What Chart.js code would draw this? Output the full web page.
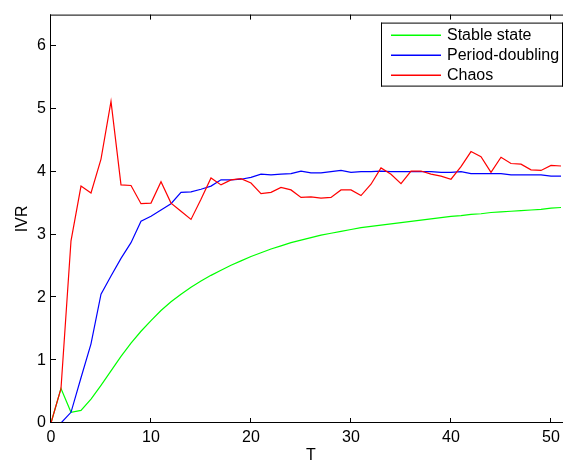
<!DOCTYPE html>
<html><head><meta charset="utf-8">
<script src="https://cdn.jsdelivr.net/npm/chart.js@4/dist/chart.umd.min.js"></script>
<style>
html,body{margin:0;padding:0;background:#fff;overflow:hidden;width:563px;height:461px}
#wrap{width:572px;height:461px;position:relative}
canvas{display:block}
</style>
</head><body><div id="wrap"><canvas id="c" width="572" height="461"></canvas></div>
<script>
const T = [0,1,2,3,4,5,6,7,8,9,10,11,12,13,14,15,16,17,18,19,20,21,22,23,24,25,26,27,28,29,30,31,32,33,34,35,36,37,38,39,40,41,42,43,44,45,46,47,48,49,50,51];
const stableState = [0,0.55,0.17,0.20,0.38,0.60,0.83,1.06,1.27,1.46,1.63,1.79,1.93,2.05,2.16,2.26,2.35,2.43,2.51,2.58,2.65,2.71,2.77,2.82,2.87,2.91,2.95,2.99,3.02,3.05,3.08,3.11,3.13,3.15,3.17,3.19,3.21,3.23,3.25,3.27,3.29,3.30,3.32,3.33,3.35,3.36,3.37,3.38,3.39,3.40,3.42,3.43];
const periodDoubling = [0,0,0.17,0.72,1.26,2.05,2.34,2.62,2.87,3.21,3.29,3.39,3.49,3.67,3.68,3.72,3.77,3.87,3.87,3.88,3.91,3.96,3.95,3.96,3.97,4.01,3.98,3.98,4.00,4.02,3.99,4.00,4.00,4.01,4.00,4.00,4.00,4.00,4.00,3.99,3.99,4.00,3.97,3.97,3.97,3.97,3.95,3.95,3.95,3.95,3.93,3.93];
const chaos = [0,0.55,2.90,3.77,3.66,4.20,5.12,3.79,3.78,3.49,3.50,3.84,3.50,3.37,3.24,3.56,3.90,3.79,3.87,3.89,3.82,3.65,3.67,3.75,3.71,3.59,3.60,3.58,3.59,3.71,3.71,3.62,3.80,4.06,3.96,3.81,4.01,4.01,3.96,3.93,3.88,4.08,4.32,4.24,3.99,4.23,4.13,4.12,4.03,4.02,4.10,4.09];
const seriesNames = ['Stable state','Period-doubling','Chaos'];
const xTicks = [0,10,20,30,40,50];
const yTicks = [0,1,2,3,4,5,6];
const xTitle = 'T';
const yTitle = 'IVR';

const COLORS = ['#00ff00','#0000ff','#ff0000'];
const FONT = '"Liberation Sans", Arial, Helvetica, sans-serif';
function pts(v){ return T.map((t,i)=>({x:t, y:v[i]})); }

const framePlugin = {
  id:'frame',
  afterDraw(chart){
    const {ctx, chartArea:a, scales:{x,y}} = chart;
    ctx.save();
    ctx.fillStyle = '#000000';
    ctx.fillRect(a.left-1, a.top, 1, a.bottom-a.top);
    ctx.fillRect(a.left-1, a.bottom-1, a.right-a.left+1, 1);
    ctx.fillRect(a.left-1, a.top, a.right-a.left+1, 1);
    ctx.fillRect(a.right-1, a.top, 1, a.bottom-a.top);
    const tl = 5;
    xTicks.forEach(v=>{
      const px = Math.round(x.getPixelForValue(v))-1;
      ctx.fillRect(px, a.bottom-tl, 1, tl);
      ctx.fillRect(px, a.top, 1, tl);
    });
    yTicks.forEach(v=>{
      const py = Math.round(y.getPixelForValue(v))-1;
      ctx.fillRect(a.left, py, tl, 1);
      ctx.fillRect(a.right-tl, py, tl, 1);
    });

    // legend box
    const L = a.left + 330, Tp = a.top + 8, R = a.right - 8, H = 64;
    ctx.fillStyle = '#ffffff';
    ctx.fillRect(L, Tp, R-L, H);
    ctx.fillStyle = '#000000';
    ctx.fillRect(L, Tp, R-L, 1);
    ctx.fillRect(L, Tp+H-1, R-L, 1);
    ctx.fillRect(L, Tp, 1, H);
    ctx.fillRect(R-1, Tp, 1, H);
    ctx.font = '16px ' + FONT;
    ctx.textBaseline = 'middle';
    ctx.textAlign = 'left';
    for (let i = 0; i < seriesNames.length; i++) {
      const yy = Math.round(Tp + 12.5 + i*19.7);
      ctx.beginPath();
      ctx.strokeStyle = COLORS[i];
      ctx.lineWidth = 1.4;
      ctx.moveTo(L+10, yy + 0.2); ctx.lineTo(L+60, yy + 0.2);
      ctx.stroke();
      ctx.fillStyle = '#000000';
      ctx.fillText(seriesNames[i], L+66, yy+1);
    }
    ctx.restore();
  }
};

new Chart(document.getElementById('c'), {
  type:'line',
  data:{
    datasets:[
      {label:seriesNames[0], data:pts(stableState), borderColor:COLORS[0], order:2},
      {label:seriesNames[1], data:pts(periodDoubling), borderColor:COLORS[1], order:1},
      {label:seriesNames[2], data:pts(chaos), borderColor:COLORS[2], order:0}
    ]
  },
  options:{
    responsive:false,
    animation:false,
    devicePixelRatio:1,
    layout:{padding:{top:12,left:0,right:1,bottom:0}},
    elements:{line:{borderWidth:1.2, tension:0, fill:false}, point:{radius:0, hoverRadius:0}},
    plugins:{legend:{display:false}, tooltip:{enabled:false}},
    events:[],
    scales:{
      x:{
        type:'linear', min:0, max:52,
        afterBuildTicks:s=>{ s.ticks = xTicks.map(v=>({value:v})); },
        afterFit:s=>{ s.height = 38; },
        grid:{display:false, drawTicks:false},
        border:{display:false},
        ticks:{color:'#000', font:{family:FONT, size:16}, padding:5, maxRotation:0, autoSkip:false},
        title:{display:true, text:xTitle, color:'#000', font:{family:FONT, size:16, lineHeight:0.72}, padding:0}
      },
      y:{
        type:'linear', min:0, max:6.5,
        afterBuildTicks:s=>{ s.ticks = yTicks.map(v=>({value:v})); },
        afterFit:s=>{ s.width = 51; },
        grid:{display:false, drawTicks:false},
        border:{display:false},
        ticks:{color:'#000', font:{family:FONT, size:16}, padding:5, autoSkip:false},
        title:{display:true, text:yTitle, color:'#000', font:{family:FONT, size:16, lineHeight:1.2}, padding:{top:13.4,bottom:0}}
      }
    }
  },
  plugins:[framePlugin]
});
</script>
</body></html>
